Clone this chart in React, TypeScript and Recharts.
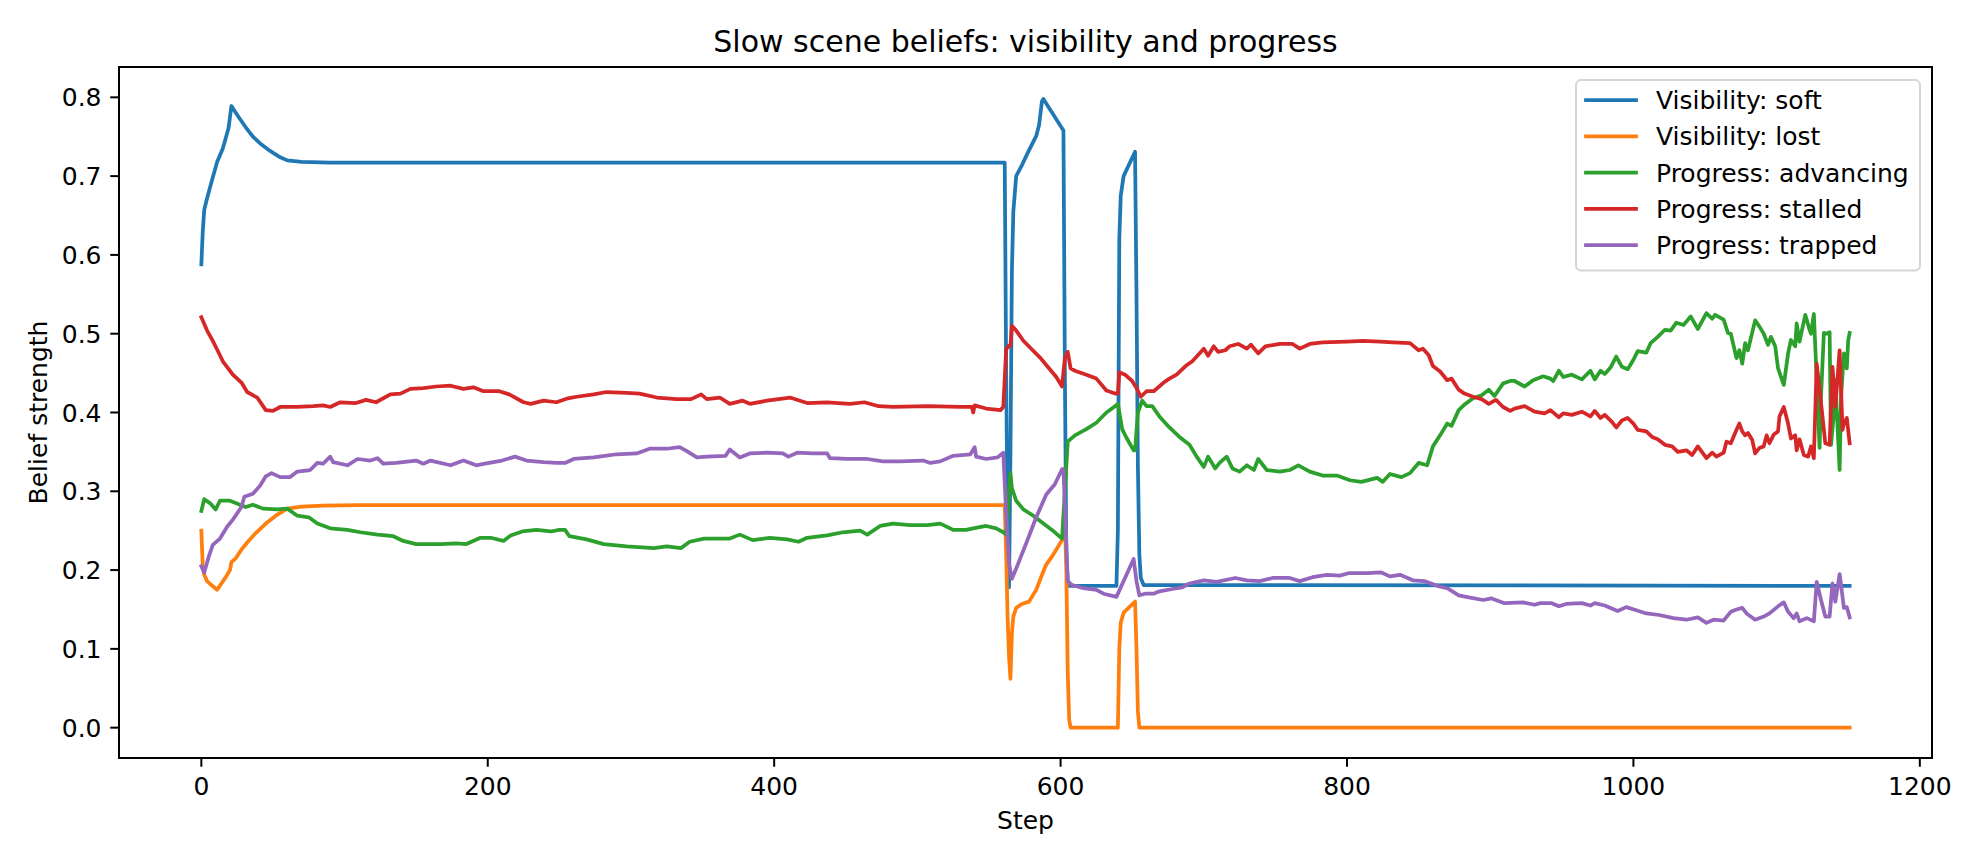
import { LineChart, Line, XAxis, YAxis, ReferenceArea } from "recharts";

const FONT = "DejaVu Sans";

const seriesNames = [
  "Visibility: soft",
  "Visibility: lost",
  "Progress: advancing",
  "Progress: stalled",
  "Progress: trapped",
];
const seriesColors = ["#1f77b4", "#ff7f0e", "#2ca02c", "#d62728", "#9467bd"];

const xTicks = [0, 200, 400, 600, 800, 1000, 1200];
const yTicks = [0, 0.1, 0.2, 0.3, 0.4, 0.5, 0.6, 0.7, 0.8];

// Visibility: soft
const softSteps = [
  0, 1, 2, 4, 7, 11, 15, 19, 20, 21, 26, 31, 36, 42, 48, 54, 60, 70, 90, 561,
  562, 563, 564, 565, 566, 567, 569, 573, 578, 583, 585, 586, 587, 588, 602,
  603, 604, 605, 606, 639, 640, 641, 642, 644, 652, 653, 654, 655, 656, 658,
  1151,
];
const softValues = [
  0.588, 0.63, 0.657, 0.672, 0.692, 0.718, 0.735, 0.761, 0.775, 0.789, 0.775,
  0.762, 0.75, 0.74, 0.732, 0.725, 0.72, 0.718, 0.717, 0.717, 0.45, 0.25,
  0.178, 0.35, 0.58, 0.655, 0.7, 0.714, 0.733, 0.751, 0.765, 0.78, 0.795,
  0.798, 0.758, 0.45, 0.22, 0.185, 0.18, 0.18, 0.25, 0.62, 0.675, 0.7, 0.731,
  0.55, 0.33, 0.22, 0.19, 0.181, 0.18,
];

// Visibility: lost
const lostSteps = [
  0, 1, 2, 4, 7, 11, 14, 17, 20, 21, 24, 28, 32, 38, 45, 52, 60, 70, 85, 110,
  561, 562, 563, 564, 565, 566, 567, 569, 573, 578, 583, 587, 590, 595, 601,
  602, 603, 604, 605, 606, 607, 640, 641, 642, 644, 652, 653, 654, 655, 1151,
];
const lostValues = [
  0.25, 0.205, 0.194, 0.186, 0.181, 0.175, 0.183, 0.191, 0.2, 0.21, 0.215,
  0.226, 0.235, 0.247, 0.259, 0.269, 0.278, 0.2805, 0.2818, 0.2823, 0.2823,
  0.22, 0.14, 0.09, 0.062, 0.12, 0.141, 0.152, 0.157, 0.16, 0.175, 0.194,
  0.207, 0.22, 0.238, 0.245, 0.265, 0.2, 0.07, 0.01, 0, 0, 0.1, 0.133, 0.146,
  0.16, 0.1, 0.02, 0, 0,
];

// Progress: advancing
const advancingSteps = [
  0, 2, 6, 10, 13, 20, 27, 31, 36, 43, 53, 60, 67, 75, 81, 90, 102, 111, 123,
  134, 141, 150, 167, 178, 185, 195, 202, 211, 216, 224, 234, 244, 250, 254,
  257, 269, 281, 297, 316, 325, 335, 341, 351, 360, 369, 376, 385, 397, 409,
  417, 423, 437, 448, 460, 465, 474, 483, 495, 507, 516, 525, 534, 539, 548,
  555, 560, 562, 564, 565, 566, 569, 574, 581, 588, 594, 601, 603, 605, 610,
  618, 625, 632, 638, 640, 643, 646, 651, 652, 654, 657, 660, 664, 669, 676,
  683, 690, 695, 700, 703, 708, 711, 716, 720, 725, 730, 735, 738, 744, 753,
  760, 766, 774, 783, 793, 802, 810, 821, 825, 830, 838, 844, 850, 856, 860,
  865, 870, 873, 878, 882, 888, 894, 899, 903, 909, 914, 917, 924, 930, 937,
  942, 944, 948, 951, 957, 964, 970, 973, 977, 980, 984, 988, 992, 996, 1000,
  1003, 1009, 1012, 1017, 1022, 1026, 1030, 1035, 1040, 1045, 1051, 1055, 1057,
  1063, 1066, 1068, 1072, 1074, 1076, 1078, 1080, 1085, 1088, 1091, 1094, 1096,
  1099, 1101, 1105, 1108, 1110, 1113, 1114, 1116, 1120, 1123, 1124, 1126, 1128,
  1130, 1131, 1133, 1135, 1137, 1138, 1140, 1141, 1144, 1145, 1147, 1149, 1150,
  1151,
];
const advancingValues = [
  0.275, 0.29, 0.285, 0.277, 0.288, 0.288, 0.283, 0.28, 0.283, 0.278, 0.277,
  0.278, 0.269, 0.267, 0.259, 0.253, 0.251, 0.248, 0.245, 0.243, 0.237, 0.233,
  0.233, 0.234, 0.233, 0.241, 0.241, 0.237, 0.244, 0.249, 0.251, 0.249, 0.251,
  0.251, 0.243, 0.239, 0.233, 0.23, 0.228, 0.23, 0.228, 0.236, 0.24, 0.24,
  0.24, 0.245, 0.238, 0.241, 0.239, 0.236, 0.241, 0.244, 0.248, 0.25, 0.245,
  0.256, 0.259, 0.257, 0.257, 0.259, 0.251, 0.251, 0.253, 0.256, 0.253, 0.248,
  0.245, 0.3, 0.323, 0.304, 0.288, 0.277, 0.269, 0.259, 0.251, 0.24, 0.3,
  0.363, 0.371, 0.379, 0.387, 0.4, 0.408, 0.411, 0.379, 0.368, 0.352, 0.352,
  0.4, 0.415, 0.408, 0.408, 0.395, 0.381, 0.369, 0.359, 0.344, 0.331, 0.344,
  0.329, 0.336, 0.344, 0.329, 0.325, 0.333, 0.327, 0.341, 0.327, 0.325, 0.327,
  0.333, 0.325, 0.32, 0.32, 0.314, 0.312, 0.317, 0.312, 0.322, 0.318, 0.323,
  0.336, 0.333, 0.357, 0.371, 0.386, 0.383, 0.403, 0.41, 0.418, 0.422, 0.429,
  0.421, 0.437, 0.44, 0.44, 0.433, 0.441, 0.446, 0.443, 0.44, 0.453, 0.445,
  0.448, 0.442, 0.453, 0.442, 0.453, 0.449, 0.457, 0.471, 0.458, 0.455, 0.467,
  0.478, 0.476, 0.488, 0.496, 0.505, 0.504, 0.514, 0.511, 0.522, 0.506, 0.526,
  0.519, 0.524, 0.518, 0.501, 0.5, 0.469, 0.479, 0.462, 0.488, 0.479, 0.517,
  0.509, 0.5, 0.486, 0.496, 0.484, 0.456, 0.435, 0.475, 0.492, 0.484, 0.513,
  0.49, 0.524, 0.505, 0.5, 0.525, 0.441, 0.355, 0.42, 0.501, 0.5, 0.502, 0.359,
  0.399, 0.441, 0.327, 0.42, 0.475, 0.456, 0.492, 0.501,
];

// Progress: stalled
const stalledSteps = [
  0, 4, 8, 11, 15, 22, 28, 32, 39, 45, 50, 55, 67, 78, 85, 90, 97, 108, 115,
  122, 132, 139, 146, 155, 164, 174, 183, 190, 197, 208, 215, 225, 230, 239,
  248, 256, 262, 274, 283, 297, 306, 318, 332, 342, 349, 353, 362, 369, 378,
  383, 395, 411, 423, 437, 453, 463, 473, 483, 507, 530, 538, 539, 540, 548,
  558, 560, 562, 564, 565, 566, 569, 574, 580, 586, 591, 597, 601, 603, 605,
  607, 610, 618, 625, 632, 638, 640, 641, 645, 650, 653, 656, 660, 665, 672,
  676, 681, 688, 692, 696, 700, 703, 707, 710, 715, 718, 724, 730, 733, 738,
  743, 753, 762, 767, 774, 783, 800, 811, 823, 832, 844, 850, 853, 857, 860,
  865, 870, 873, 878, 882, 888, 894, 899, 904, 909, 914, 917, 924, 931, 938,
  942, 948, 951, 957, 964, 970, 973, 977, 980, 985, 988, 992, 996, 1000, 1003,
  1009, 1013, 1017, 1022, 1027, 1031, 1037, 1041, 1045, 1051, 1055, 1058, 1063,
  1065, 1068, 1072, 1074, 1076, 1078, 1080, 1083, 1085, 1088, 1091, 1093, 1095,
  1098, 1101, 1102, 1105, 1108, 1110, 1113, 1114, 1116, 1119, 1122, 1124, 1126,
  1128, 1131, 1134, 1137, 1139, 1141, 1144, 1146, 1147, 1149, 1151,
];
const stalledValues = [
  0.521, 0.504, 0.491, 0.48, 0.465, 0.448, 0.438, 0.426, 0.419, 0.403, 0.402,
  0.407, 0.407, 0.408, 0.409, 0.407, 0.413, 0.412, 0.416, 0.413, 0.423, 0.424,
  0.43, 0.431, 0.433, 0.434, 0.43, 0.432, 0.427, 0.427, 0.423, 0.413, 0.411,
  0.415, 0.413, 0.418, 0.42, 0.423, 0.426, 0.425, 0.424, 0.419, 0.417, 0.417,
  0.423, 0.417, 0.419, 0.411, 0.415, 0.411, 0.415, 0.419, 0.412, 0.413, 0.411,
  0.413, 0.408, 0.407, 0.408, 0.407, 0.407, 0.4, 0.409, 0.405, 0.403, 0.407,
  0.48, 0.485, 0.485, 0.51, 0.504, 0.491, 0.48, 0.469, 0.458, 0.445, 0.433,
  0.469, 0.477, 0.456, 0.453, 0.448, 0.443, 0.428, 0.424, 0.424, 0.451, 0.448,
  0.44, 0.431, 0.42, 0.427, 0.427, 0.438, 0.443, 0.448, 0.46, 0.465, 0.473,
  0.481, 0.472, 0.484, 0.477, 0.479, 0.484, 0.487, 0.481, 0.486, 0.475, 0.484,
  0.487, 0.487, 0.481, 0.487, 0.489, 0.49, 0.491, 0.49, 0.489, 0.488, 0.479,
  0.481, 0.473, 0.459, 0.452, 0.441, 0.443, 0.429, 0.424, 0.42, 0.417, 0.411,
  0.416, 0.407, 0.402, 0.405, 0.408, 0.401, 0.399, 0.403, 0.394, 0.399, 0.397,
  0.401, 0.395, 0.402, 0.393, 0.397, 0.388, 0.381, 0.39, 0.393, 0.386, 0.378,
  0.376, 0.369, 0.366, 0.359, 0.357, 0.35, 0.352, 0.346, 0.357, 0.342, 0.349,
  0.344, 0.349, 0.363, 0.361, 0.378, 0.386, 0.376, 0.371, 0.374, 0.365, 0.348,
  0.355, 0.357, 0.371, 0.361, 0.372, 0.376, 0.395, 0.407, 0.386, 0.367, 0.371,
  0.352, 0.366, 0.346, 0.344, 0.357, 0.342, 0.462, 0.412, 0.361, 0.359, 0.458,
  0.407, 0.479, 0.378, 0.386, 0.393, 0.361,
];

// Progress: trapped
const trappedSteps = [
  0, 2, 5, 8, 13, 18, 22, 28, 30, 36, 41, 45, 49, 55, 62, 67, 76, 81, 85, 90,
  92, 102, 109, 118, 123, 127, 136, 150, 155, 160, 174, 183, 192, 198, 210,
  219, 227, 239, 248, 254, 260, 274, 290, 304, 313, 325, 334, 339, 346, 353,
  366, 369, 376, 383, 395, 406, 410, 416, 427, 437, 439, 451, 465, 476, 488,
  504, 509, 516, 525, 537, 540, 541, 548, 556, 560, 562, 564, 566, 569, 576,
  583, 590, 596, 601, 602, 604, 605, 608, 616, 625, 630, 639, 644, 648, 651,
  653, 655, 659, 665, 669, 678, 685, 690, 700, 709, 722, 730, 739, 748, 760,
  767, 776, 786, 795, 801, 814, 824, 830, 837, 846, 854, 863, 870, 878, 886,
  895, 901, 910, 923, 931, 935, 943, 948, 953, 964, 970, 973, 980, 989, 995,
  1002, 1009, 1018, 1028, 1037, 1045, 1051, 1056, 1063, 1068, 1072, 1076, 1079,
  1085, 1091, 1095, 1101, 1105, 1108, 1112, 1114, 1116, 1121, 1126, 1128, 1131,
  1134, 1137, 1139, 1141, 1144, 1147, 1149, 1151,
];
const trappedValues = [
  0.205, 0.197, 0.216, 0.232, 0.24, 0.255, 0.264, 0.28, 0.293, 0.297, 0.307,
  0.319, 0.323, 0.318, 0.318, 0.325, 0.327, 0.336, 0.335, 0.344, 0.337, 0.333,
  0.341, 0.339, 0.342, 0.335, 0.336, 0.339, 0.335, 0.339, 0.333, 0.339, 0.333,
  0.335, 0.339, 0.344, 0.339, 0.337, 0.336, 0.336, 0.341, 0.343, 0.347, 0.348,
  0.354, 0.354, 0.356, 0.351, 0.343, 0.344, 0.345, 0.353, 0.343, 0.348, 0.349,
  0.348, 0.344, 0.349, 0.348, 0.348, 0.342, 0.341, 0.341, 0.338, 0.338, 0.339,
  0.336, 0.338, 0.345, 0.347, 0.356, 0.344, 0.341, 0.343, 0.349, 0.272, 0.208,
  0.189, 0.202, 0.234, 0.267, 0.296, 0.309, 0.328, 0.328, 0.234, 0.186, 0.181,
  0.177, 0.175, 0.17, 0.166, 0.186, 0.202, 0.214, 0.186, 0.168, 0.17, 0.17,
  0.173, 0.176, 0.178, 0.183, 0.187, 0.185, 0.19, 0.187, 0.186, 0.19, 0.19,
  0.186, 0.191, 0.194, 0.193, 0.196, 0.196, 0.197, 0.192, 0.194, 0.187, 0.186,
  0.18, 0.177, 0.168, 0.165, 0.162, 0.164, 0.158, 0.159, 0.156, 0.158, 0.158,
  0.154, 0.157, 0.158, 0.155, 0.158, 0.155, 0.148, 0.153, 0.149, 0.145, 0.143,
  0.139, 0.137, 0.14, 0.133, 0.137, 0.136, 0.147, 0.15, 0.152, 0.145, 0.137,
  0.141, 0.145, 0.154, 0.159, 0.147, 0.139, 0.145, 0.135, 0.139, 0.135, 0.185,
  0.162, 0.141, 0.141, 0.183, 0.16, 0.195, 0.152, 0.153, 0.14,
];

const toRows = (steps: number[], values: number[]) =>
  steps.map((step, i) => ({ step, value: values[i] }));

const seriesData = [
  toRows(softSteps, softValues),
  toRows(lostSteps, lostValues),
  toRows(advancingSteps, advancingValues),
  toRows(stalledSteps, stalledValues),
  toRows(trappedSteps, trappedValues),
];

const X_DOMAIN: [number, number] = [-57.5, 1208.5];
const Y_DOMAIN: [number, number] = [-0.0385, 0.8385];

const XTick = ({ x, y, payload }: any) => (
  <text x={x} y={y + 19.5} textAnchor="middle" fontSize={25} fontFamily={FONT} fill="#000">
    {payload.value}
  </text>
);

const YTick = ({ x, y, payload }: any) => (
  <text x={x} y={y + 9} textAnchor="end" fontSize={25} fontFamily={FONT} fill="#000">
    {Number(payload.value).toFixed(1)}
  </text>
);

export default function App() {
  return (
    <div style={{ position: "absolute", left: 0, top: 0, width: 1980, height: 864, background: "#fff" }}>
      <LineChart
        width={1980}
        height={864}
        margin={{ top: 67, right: 48, bottom: 0, left: 0 }}
      >
        <XAxis
          dataKey="step"
          type="number"
          domain={X_DOMAIN}
          allowDataOverflow
          ticks={xTicks}
          interval={0}
          height={106}
          axisLine={false}
          tickLine={{ stroke: "#000", strokeWidth: 2 }}
          tickSize={8.75}
          tickMargin={8.75}
          tick={<XTick />}
        />
        <YAxis
          type="number"
          domain={Y_DOMAIN}
          allowDataOverflow
          ticks={yTicks}
          interval={0}
          width={119}
          axisLine={false}
          tickLine={{ stroke: "#000", strokeWidth: 2 }}
          tickSize={8.75}
          tickMargin={8.75}
          tick={<YTick />}
        />
        {seriesData.map((rows, i) => (
          <Line
            key={seriesNames[i]}
            data={rows}
            dataKey="value"
            name={seriesNames[i]}
            type="linear"
            stroke={seriesColors[i]}
            strokeWidth={3.75}
            strokeLinejoin="round"
            strokeLinecap="square"
            dot={false}
            activeDot={false}
            isAnimationActive={false}
          />
        ))}
        <ReferenceArea
          x1={X_DOMAIN[0]}
          x2={X_DOMAIN[1]}
          y1={Y_DOMAIN[0]}
          y2={Y_DOMAIN[1]}
          fill="none"
          stroke="#000"
          strokeWidth={2}
          ifOverflow="visible"
        />
      </LineChart>
      <svg
        width={1980}
        height={864}
        style={{ position: "absolute", left: 0, top: 0, pointerEvents: "none" }}
      >
        <text x={1025.5} y={52} textAnchor="middle" fontSize={30} fontFamily={FONT} fill="#000">
          Slow scene beliefs: visibility and progress
        </text>
        <text x={1025.5} y={829} textAnchor="middle" fontSize={25} fontFamily={FONT} fill="#000">
          Step
        </text>
        <text
          x={0}
          y={0}
          transform="translate(47 412.5) rotate(-90)"
          textAnchor="middle"
          fontSize={25}
          fontFamily={FONT}
          fill="#000"
        >
          Belief strength
        </text>
        <rect
          x={1576}
          y={80}
          width={344}
          height={190.5}
          rx={5}
          fill="#fff"
          fillOpacity={0.8}
          stroke="#d6d6d6"
          strokeWidth={2}
        />
        {seriesNames.map((name, i) => {
          const cy = 100 + i * 36.3;
          return (
            <g key={name}>
              <line
                x1={1586}
                x2={1636}
                y1={cy}
                y2={cy}
                stroke={seriesColors[i]}
                strokeWidth={3.75}
                strokeLinecap="square"
              />
              <text x={1656} y={cy + 9} fontSize={25} fontFamily={FONT} fill="#000">
                {name}
              </text>
            </g>
          );
        })}
      </svg>
    </div>
  );
}
